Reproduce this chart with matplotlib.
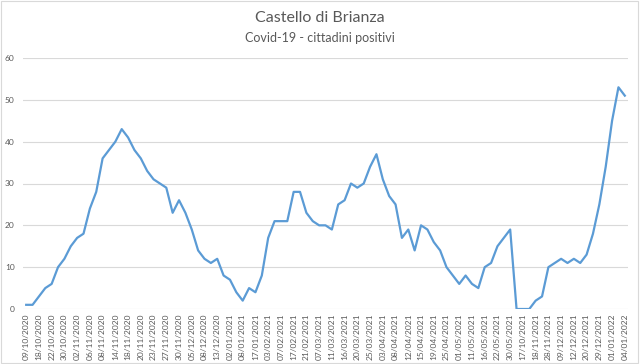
import numpy as np
import matplotlib.pyplot as plt
from matplotlib.patches import Rectangle

plt.rcParams['font.family'] = ['Lato', 'DejaVu Sans']

## Data - positivi per rilevazione
positivi = [1, 1, 3, 5, 6, 10, 12, 15, 17, 18, 24, 28, 36, 38, 40, 43, 41, 38, 36, 33,
            31, 30, 29, 23, 26, 23, 19, 14, 12, 11, 12, 8, 7, 4, 2, 5, 4, 8, 17, 21,
            21, 21, 28, 28, 23, 21, 20, 20, 19, 25, 26, 30, 29, 30, 34, 37, 31, 27, 25, 17,
            19, 14, 20, 19, 16, 14, 10, 8, 6, 8, 6, 5, 10, 11, 15, 17, 19, 0, 0, 0,
            2, 3, 10, 11, 12, 11, 12, 11, 13, 18, 25, 34, 45, 53, 51]

## Tick labels (one every two points)
date_labels = ['09/10/2020', '18/10/2020', '22/10/2020', '30/10/2020', '02/11/2020', '06/11/2020',
               '08/11/2020', '14/11/2020', '18/11/2020', '20/11/2020', '23/11/2020', '27/11/2020',
               '30/11/2020', '05/12/2020', '08/12/2020', '13/12/2020', '02/01/2021', '08/01/2021',
               '17/01/2021', '03/02/2021', '07/02/2021', '17/02/2021', '21/02/2021', '07/03/2021',
               '11/03/2021', '16/03/2021', '20/03/2021', '25/03/2021', '03/04/2021', '08/04/2021',
               '12/04/2021', '15/04/2021', '19/04/2021', '25/04/2021', '01/05/2021', '11/05/2021',
               '16/05/2021', '22/05/2021', '30/05/2021', '17/10/2021', '18/11/2021', '28/11/2021',
               '09/12/2021', '12/12/2021', '20/12/2021', '29/12/2021', '01/01/2022', '04/01/2022']

x = np.arange(len(positivi))

fig = plt.figure(figsize=(6.4, 3.64), dpi=100)
ax = fig.add_axes([23/640, 1 - 309/364, 605/640, 251/364])

ax.plot(x, positivi, color='#5B9BD5', linewidth=1.6, solid_joinstyle='round')

ax.set_xlim(-0.5, len(positivi) - 0.5)
ax.set_ylim(0, 60)
ax.set_yticks(range(0, 61, 10))
ax.set_xticks(x[::2])
ax.set_xticklabels(date_labels, rotation=90, fontsize=6, color='#595959')
ax.tick_params(axis='y', labelsize=6, colors='#595959', length=0, pad=6)
ax.tick_params(axis='x', length=0, pad=3)

ax.grid(axis='y', color='#D9D9D9', linewidth=0.8)
ax.set_axisbelow(True)
for s in ax.spines.values():
    s.set_visible(False)

## Titles
fig.text(0.5, 1 - 18/364, 'Castello di Brianza', ha='center', va='center', fontsize=11.5, color='#595959')
fig.text(0.5, 1 - 38/364, 'Covid-19 - cittadini positivi', ha='center', va='center', fontsize=9, color='#595959')

## Outer border
fig.patches.append(Rectangle((0.002, 0.003), 0.995, 0.994, transform=fig.transFigure,
                             fill=False, edgecolor='#D9D9D9', linewidth=0.8))

fig.savefig('out.png', dpi=100)
